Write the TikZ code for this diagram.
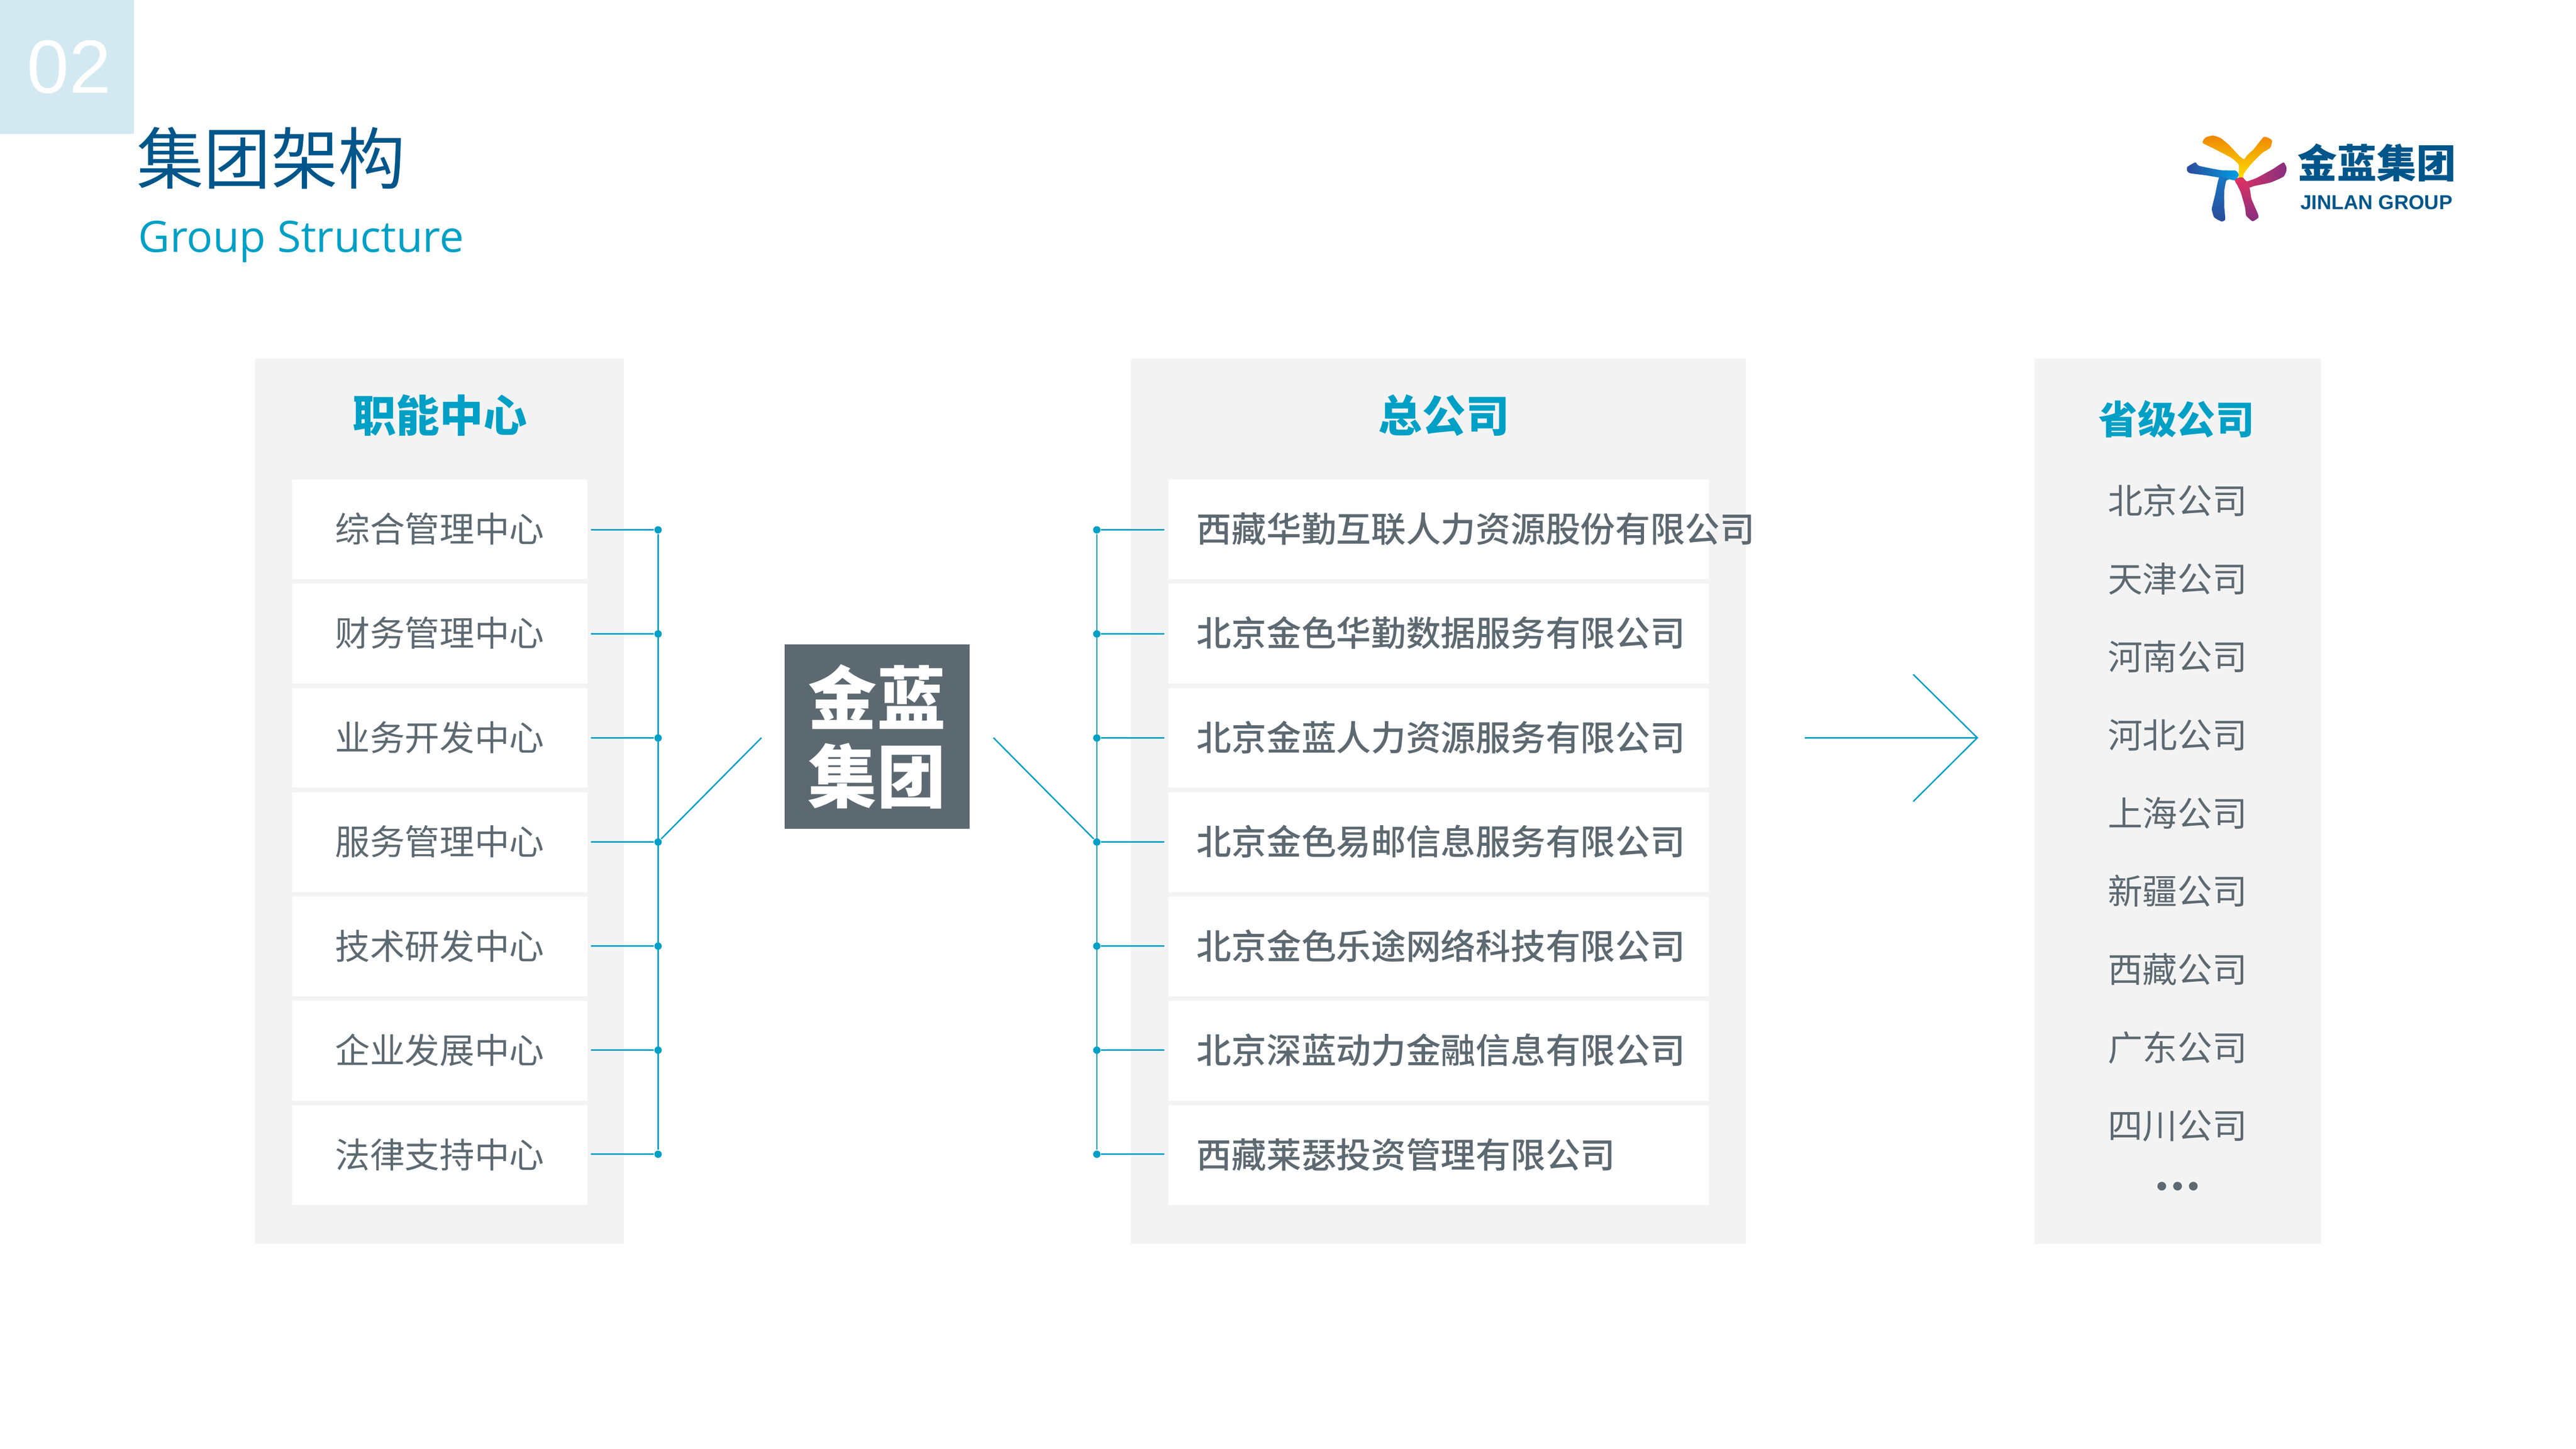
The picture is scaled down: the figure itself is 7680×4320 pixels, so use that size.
\documentclass[tikz,border=0pt]{standalone}
\usepackage{fontspec}
\newfontfamily\cjkreg{Noto Sans CJK SC}
\newfontfamily\cjkmed{Noto Sans CJK SC Medium}
\newfontfamily\cjkheavy{Noto Sans CJK SC Black}
\newfontfamily\latinfont{Open Sans}
\newfontfamily\numfont{Liberation Sans}
\definecolor{headblue}{HTML}{00568A}
\definecolor{linkblue}{HTML}{00A0C6}
\definecolor{bodygrey}{HTML}{5D6971}
\definecolor{panelgrey}{HTML}{F3F3F3}
\definecolor{squareblue}{HTML}{D3E9F2}
\definecolor{logoorange}{HTML}{EE8600}
\definecolor{logoyellow}{HTML}{FFE000}
\definecolor{logobluea}{HTML}{009EE3}
\definecolor{logoblueb}{HTML}{2B4B9B}
\definecolor{logobluec}{HTML}{1878C4}
\definecolor{logopink}{HTML}{E4325F}
\definecolor{logopurple}{HTML}{852F80}
\begin{document}
\begin{tikzpicture}[
    x = 0.1pt,
    y = -0.1pt,
    panel/.style = {fill = panelgrey},
    heading/.style = {text = linkblue, inner sep = 0pt, text height = .88em, text depth = .12em,
      font = \cjkheavy\fontsize{13}{13}\selectfont},
    rowbox/.style = {fill = white, inner sep = 0pt, minimum height = 29.7pt, text = bodygrey,
      text height = .88em, text depth = .12em},
    leftrow/.style = {rowbox, minimum width = 88pt, font = \cjkreg\fontsize{10.4}{12}\selectfont},
    midrow/.style = {rowbox, text width = 161.2pt, align = left, font = \cjkmed\fontsize{10.4}{12}\selectfont,
      execute at begin node = \hspace*{8.5pt}},
    province/.style = {text = bodygrey, inner sep = 0pt, text height = .88em, text depth = .12em,
      font = \cjkreg\fontsize{10.4}{12}\selectfont},
    dot/.style = {circle, fill = linkblue, inner sep = 0pt, minimum size = 2.2pt},
    link/.style = {draw = linkblue, line width = 0.42pt},
    moredot/.style = {circle, fill = bodygrey, inner sep = 0pt, minimum size = 2.6pt}
  ]
  \useasboundingbox (0,0) rectangle (7680,4320);

  % Header
  \fill[squareblue] (0,0) rectangle (400,400);
  \node[text = white, inner sep = 0pt, font = \numfont\fontsize{22.5}{24}\selectfont] (pageno) at (206,200) {02};
  \node[text = headblue, inner sep = 0pt, anchor = west, text height = .88em, text depth = .12em,
    font = \cjkreg\fontsize{20}{20}\selectfont] (titlecn) at (406,510) {集团架构};
  \node[text = linkblue, inner sep = 0pt, anchor = base west, font = \latinfont\fontsize{12.9}{14}\selectfont]
    (titleen) at (411,752) {Group Structure};

  % Panels
  \fill[panel] (760,1069) rectangle (1860,3709);
  \fill[panel] (3371,1069) rectangle (5205,3709);
  \fill[panel] (6065,1069) rectangle (6920,3709);
  \node[heading] (lefthead) at (1311,1250) {职能中心};
  \node[heading] (midhead) at (4305,1250) {总公司};
  \node[heading, font = \cjkheavy\fontsize{11.6}{13}\selectfont] (righthead) at (6489,1256) {省级公司};

  \foreach \txt [count = \i] in {综合管理中心,财务管理中心,业务开发中心,服务管理中心,技术研发中心,企业发展中心,法律支持中心} {
    \node[leftrow, name = left\i] at (1311, {1578.5 + 311*(\i-1)}) {\txt};
    \coordinate (leftend\i) at (1762, {1580 + 310.3*(\i-1)});
    \node[dot, name = leftdot\i] at (1962, {1580 + 310.3*(\i-1)}) {};
    \draw[link] (leftend\i) -- (leftdot\i);
  }
  \foreach \txt [count = \i] in {西藏华勤互联人力资源股份有限公司,北京金色华勤数据服务有限公司,北京金蓝人力资源服务有限公司,
      北京金色易邮信息服务有限公司,北京金色乐途网络科技有限公司,北京深蓝动力金融信息有限公司,西藏莱瑟投资管理有限公司} {
    \node[midrow, name = mid\i] at (4289, {1578.5 + 311*(\i-1)}) {\txt};
    \coordinate (midend\i) at (3471, {1580 + 310.3*(\i-1)});
    \node[dot, name = middot\i] at (3270, {1580 + 310.3*(\i-1)}) {};
    \draw[link] (midend\i) -- (middot\i);
  }
  \foreach \txt [count = \i] in {北京公司,天津公司,河南公司,河北公司,上海公司,新疆公司,西藏公司,广东公司,四川公司} {
    \node[province, name = prov\i] at (6492, {1494 + 233*(\i-1)}) {\txt};
  }
  \node[moredot] (more1) at (6445,3537) {};
  \node[moredot] (more2) at (6492,3537) {};
  \node[moredot] (more3) at (6539,3537) {};

  % Group box
  \node[fill = bodygrey, text = white, inner sep = 0pt, minimum width = 55.1pt, minimum height = 55pt,
    align = center, font = \cjkheavy\fontsize{20.5}{23.3}\selectfont] (group) at (2614.5,2197) {金蓝\\集团};

  % Links
  \coordinate (hubleft) at (2270,2200);
  \coordinate (hubright) at (2962,2200);
  \draw[link] (leftdot1) -- (leftdot7);
  \draw[link] (middot1) -- (middot7);
  \draw[link] (leftdot4) -- (hubleft);
  \draw[link] (hubright) -- (middot4);

  % Arrow
  \coordinate (arrowtail) at (5381,2200);
  \coordinate (arrowtip) at (5895,2200);
  \coordinate (arrowup) at (5704,2011);
  \coordinate (arrowdown) at (5704,2390);
  \draw[link] (arrowtail) -- (arrowtip);
  \draw[link, line join = miter] (arrowup) -- (arrowtip) -- (arrowdown);

  % Logo
  \begin{scope}[shift = {(6400,300)}, x = 0.06378pt, y = -0.03189pt]
    \shade[top color = logoorange, bottom color = logoyellow] plot[smooth cycle, tension = .35] coordinates
      {(262,395) (275,345) (310,327) (345,350) (385,415) (432,515) (455,548) (470,510) (500,455) (548,340) (585,370) (578,440) (540,490) (490,590) (455,680) (450,722) (430,722) (430,600) (395,535) (315,450)};
    \shade[left color = logoblueb, right color = logobluea] plot[smooth cycle, tension = .35] coordinates
      {(190,620) (228,578) (245,610) (345,650) (415,655) (430,695) (415,745) (385,735) (345,722) (275,698) (205,680) (190,660)};
    \shade[top color = logobluec, bottom color = logoblueb] plot[smooth cycle, tension = .35] coordinates
      {(340,715) (385,735) (372,750) (363,840) (363,1000) (367,1110) (350,1130) (315,1090) (305,1010) (320,880)};
    \shade[left color = logopink, right color = logopurple] plot[smooth cycle, tension = .3] coordinates
      {(412,745) (430,720) (450,720) (468,755) (515,722) (590,640) (640,578) (655,640) (640,710) (580,765) (500,800) (478,815) (425,790)};
    \shade[top color = logopink!85!logopurple, bottom color = logopurple] plot[smooth cycle, tension = .3] coordinates
      {(420,765) (478,805) (490,920) (520,1060) (522,1095) (495,1128) (465,1075) (460,1000) (440,860)};
  \end{scope}
  \node[text = headblue, inner sep = 0pt, text height = .88em, text depth = .12em,
    font = \cjkheavy\fontsize{11.8}{13}\selectfont] (logocn) at (7086,493) {金蓝集团};
  \node[text = headblue, inner sep = 0pt, anchor = base, font = \numfont\bfseries\fontsize{6}{7}\selectfont]
    (logoen) at (7085,625) {JINLAN GROUP};
\end{tikzpicture}
\end{document}
